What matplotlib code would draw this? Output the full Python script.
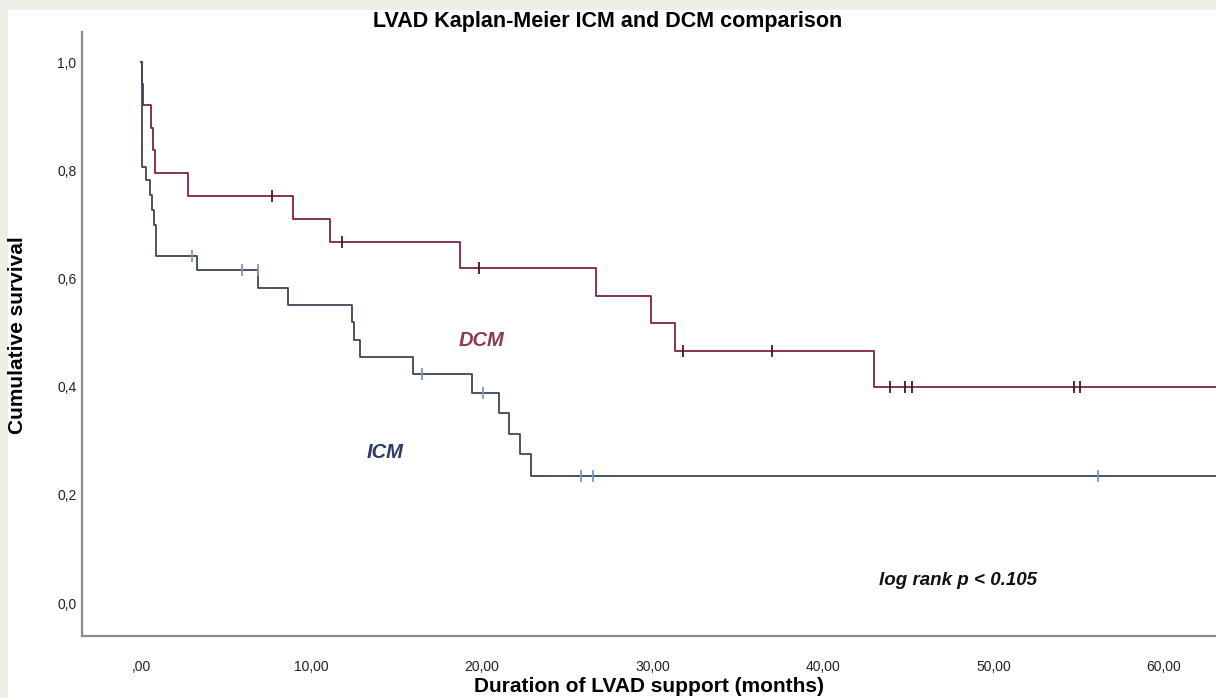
import numpy as np
import matplotlib
matplotlib.use('Agg')
import matplotlib.pyplot as plt
from matplotlib.patches import Rectangle

# DCM group: event times (months) and survival after each event
dcm_times = [0.05, 0.10, 0.60, 0.70, 0.85, 2.75, 8.93, 11.08, 18.7, 26.7, 29.9, 31.3, 43.0]
dcm_surv = [0.960, 0.920, 0.878, 0.837, 0.795, 0.753, 0.710, 0.667, 0.620, 0.568, 0.517, 0.466, 0.400]
dcm_censor = [7.7, 11.8, 19.85, 31.8, 37.0, 43.95, 44.8, 45.2, 54.7, 55.1]
dcm_last = 64.0

# ICM group
icm_times = [0.04, 0.27, 0.53, 0.66, 0.75, 0.86, 3.26, 6.88, 8.6, 12.4, 12.5, 12.85,
             15.97, 19.43, 21.0, 21.6, 22.2, 22.85]
icm_surv = [0.806, 0.782, 0.754, 0.726, 0.698, 0.642, 0.616, 0.582, 0.550, 0.520, 0.487, 0.455,
            0.423, 0.388, 0.351, 0.312, 0.275, 0.235]
icm_censor = [2.97, 5.95, 6.84, 16.46, 20.07, 25.8, 26.5, 56.1]
icm_last = 64.0

x_ticks = [0, 10, 20, 30, 40, 50, 60]
x_labels = [',00', '10,00', '20,00', '30,00', '40,00', '50,00', '60,00']
y_ticks = [0.0, 0.2, 0.4, 0.6, 0.8, 1.0]
y_labels = ['0,0', '0,2', '0,4', '0,6', '0,8', '1,0']

plt.rcParams['font.family'] = ['Liberation Sans', 'DejaVu Sans']

fig = plt.figure(figsize=(12.16, 6.98), dpi=100, facecolor='#efefe5')
# white panel inside the beige frame
fig.add_artist(Rectangle((8 / 1216, 0), 1, 1 - 10 / 698, transform=fig.transFigure,
                         facecolor='white', edgecolor='none', zorder=-5))
ax = fig.add_axes([82 / 1216, 62 / 698, 1 - 82 / 1216, (636 - 32) / 698])
ax.set_facecolor('white')
ax.set_zorder(2)


def km_curve(times, surv, last):
    t = np.concatenate([[0.0], times, [last]])
    s = np.concatenate([[1.0], surv, [surv[-1]]])
    return t, s


def surv_at(times, surv, when):
    idx = np.searchsorted(times, when, side='right') - 1
    s = np.asarray(surv)
    return np.where(idx >= 0, s[np.clip(idx, 0, None)], 1.0)


groups = [
    (dcm_times, dcm_surv, dcm_censor, dcm_last, '#7d2444', '#4e1228'),
    (icm_times, icm_surv, icm_censor, icm_last, '#3e4757', '#7d98bd'),
]
for times, surv, cens, last, lc, cc in groups:
    t, s = km_curve(times, surv, last)
    ax.step(t, s, where='post', color=lc, lw=1.3, zorder=3)
    ax.plot(cens, surv_at(times, surv, cens), ls='none', marker='|',
            ms=9, mew=1.3, color=cc, zorder=4)

ax.set_xlim(-3.46, 63.05)
ax.set_ylim(-0.061, 1.0555)
ax.set_xticks(x_ticks)
ax.set_xticklabels(x_labels)
ax.set_yticks(y_ticks)
ax.set_yticklabels(y_labels)
ax.tick_params(axis='both', length=0, labelsize=10, colors='#222222')
ax.tick_params(axis='x', pad=17)
ax.tick_params(axis='y', pad=4)

for side in ['top', 'right']:
    ax.spines[side].set_visible(False)
for side in ['left', 'bottom']:
    ax.spines[side].set_color('#8a8a8a')
    ax.spines[side].set_linewidth(1.6)

ax.text(20.0, 0.485, 'DCM', color='#8c3b4e', fontsize=14.5, fontstyle='italic',
        fontweight='bold', ha='center', va='center')
ax.text(14.3, 0.278, 'ICM', color='#2c3a6a', fontsize=14.5, fontstyle='italic',
        fontweight='bold', ha='center', va='center')
ax.text(47.9, 0.042, 'log rank p < 0.105', color='#111111', fontsize=13.5,
        fontstyle='italic', fontweight='bold', ha='center', va='center')

fig.text(608 / 1216, 1 - 22 / 698, 'LVAD Kaplan-Meier ICM and DCM comparison',
         ha='center', va='center', fontsize=15.5, fontweight='bold')
fig.text(649 / 1216, 1 - 687 / 698, 'Duration of LVAD support (months)',
         ha='center', va='center', fontsize=15, fontweight='bold')
fig.text(18 / 1216, 1 - 335 / 698, 'Cumulative survival', rotation=90,
         ha='center', va='center', fontsize=15, fontweight='bold')

fig.savefig('out.png', dpi=100, facecolor=fig.get_facecolor())
